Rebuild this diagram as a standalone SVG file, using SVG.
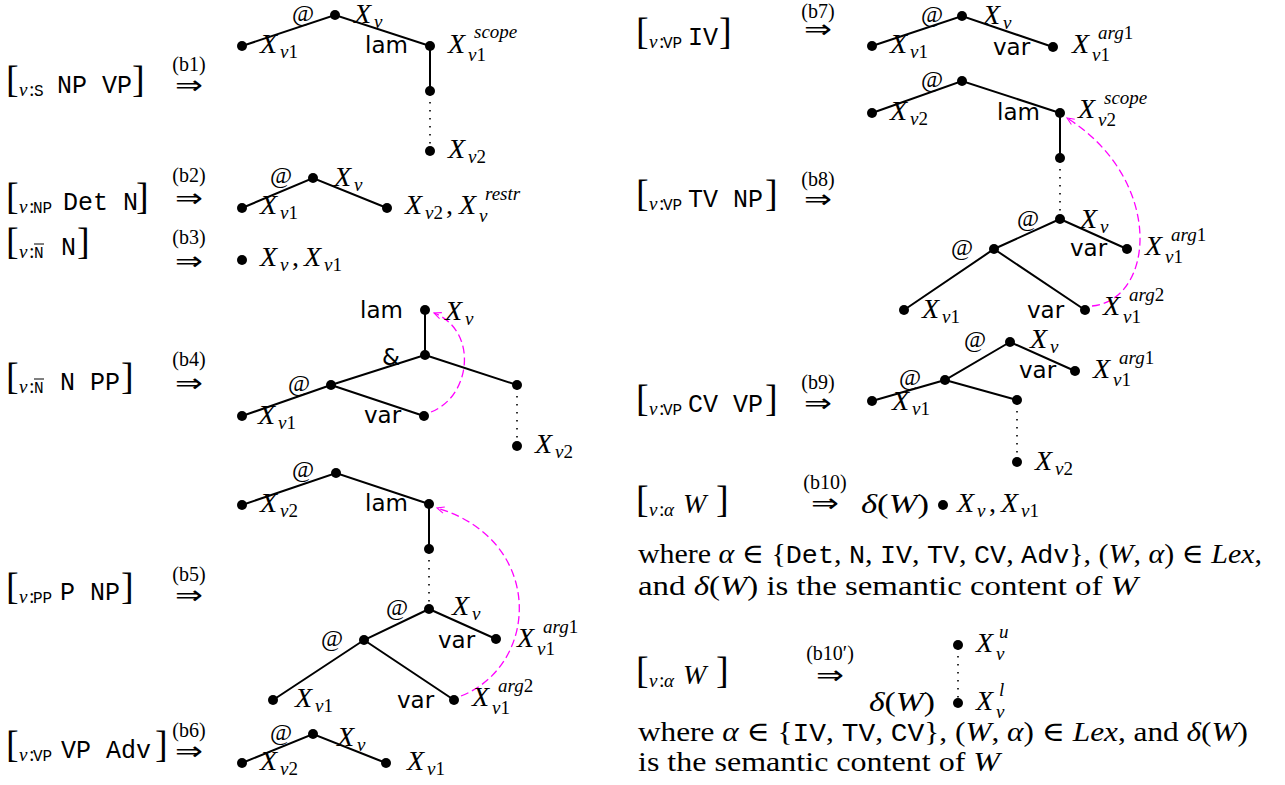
<svg xmlns="http://www.w3.org/2000/svg" width="1285" height="785" viewBox="0 0 1285 785">
<defs>
<style>
.m{font-family:"Liberation Serif","DejaVu Serif",serif;font-style:italic;font-size:28px}
.r{font-family:"Liberation Serif","DejaVu Serif",serif;font-size:28px;font-style:normal}
.s{font-size:19px}
.u{font-style:normal}
.i{font-style:italic}
.tt{font-family:"Liberation Mono",monospace;font-size:25px;font-style:normal}
.ts{font-family:"Liberation Mono",monospace;font-size:16px;font-style:normal}
.sf{font-family:"DejaVu Sans",sans-serif;font-size:23px}
.at{font-family:"Liberation Serif",serif;font-size:24px;text-anchor:middle}
.bl{font-family:"Liberation Serif",serif;font-size:20px;text-anchor:middle}
.ar{font-family:"DejaVu Sans",sans-serif;font-size:26px;text-anchor:middle}
.br{font-family:"Liberation Serif",serif;font-size:38px}
.col{font-family:"Liberation Serif",serif;font-size:20px}
.e{stroke:#000;stroke-width:2;fill:none}
.d{stroke:#000;stroke-width:1.6;stroke-dasharray:1.5 6.5;fill:none}
.c{stroke:#f0f;stroke-width:1.3;stroke-dasharray:8 4;fill:none;marker-end:url(#ah)}
circle{fill:#000}
</style>
<marker id="ah" viewBox="0 0 10 10" refX="9" refY="5" markerWidth="9" markerHeight="9" orient="auto" markerUnits="userSpaceOnUse"><path d="M1,1.5 L9,5 L1,8.5" fill="none" stroke="#f0f" stroke-width="1.2"/></marker>
</defs>
<rect width="1285" height="785" fill="#fff"/>

<g id="connectors">
<path class="e" d="M242,46 L335,15 L430,46 L430,91"/>
<path class="d" d="M430,94 L430,151"/>
<path class="e" d="M242,208 L313,178 L387,208"/>
<path class="e" d="M425,310 L425,355 L331,385 L242,416 M331,385 L424,416 M425,355 L517,385"/>
<path class="d" d="M517,388 L517,446"/>
<path class="c" d="M431,412 C472,396 478,330 434,313"/>
<path class="e" d="M242,505 L336,473 L429,504 L429,549 M429,609 L364,640 L273,700 M364,640 L454,700 M429,609 L496,639"/>
<path class="d" d="M429,552 L429,609"/>
<path class="c" d="M461,696 C540,665 545,540 437,508"/>
<path class="e" d="M242,763 L313,734 L386,763"/>
<path class="e" d="M872,46 L962,16 L1053,47"/>
<path class="e" d="M872,113 L962,81 L1060,113 L1060,158 M1060,219 L994,249 L904,310 M994,249 L1085,310 M1060,219 L1127,249"/>
<path class="d" d="M1060,161 L1060,219"/>
<path class="c" d="M1092,306 C1155,300 1165,180 1067,118"/>
<path class="e" d="M872,401 L945,380 L1010,342 L1075,371 M945,380 L1017,400"/>
<path class="d" d="M1017,403 L1017,462"/>
<path class="d" d="M958,648 L958,703"/>
</g>

<g id="b1-label">
<text class="br" x="6" y="92">[</text>
<text class="m s" x="19" y="96">ν</text><text class="col" x="29" y="96">:</text><text class="ts" x="34" y="96">S</text>
<text class="tt" x="57" y="93">NP VP</text>
<text class="br" x="132" y="92">]</text>
<text class="bl" x="189" y="71">(b1)</text>
<text class="ar" x="189" y="94" textLength="28" lengthAdjust="spacingAndGlyphs">⇒</text>
</g>
<g id="b1-n1"><circle cx="242" cy="46" r="5"/><text class="m" x="260" y="53">X<tspan class="s" x="280" y="58">ν<tspan class="u">1</tspan></tspan></text></g>
<g id="b1-n2"><circle cx="335" cy="15" r="5"/><text class="at" x="303" y="21">@</text><text class="m" x="354" y="23">X<tspan class="s" x="374" y="28">ν</tspan></text></g>
<g id="b1-n3"><circle cx="430" cy="46" r="5"/><text class="sf" x="365" y="53">lam</text><text class="m" x="448" y="53">X<tspan class="s" x="474" y="38">scope</tspan><tspan class="s" x="468" y="61">ν<tspan class="u">1</tspan></tspan></text></g>
<g id="b1-n4"><circle cx="430" cy="91" r="5"/></g>
<g id="b1-n5"><circle cx="430" cy="151" r="5"/><text class="m" x="448" y="158">X<tspan class="s" x="468" y="163">ν<tspan class="u">2</tspan></tspan></text></g>

<g id="b2-label">
<text class="br" x="6" y="209">[</text>
<text class="m s" x="19" y="213">ν</text><text class="col" x="29" y="213">:</text><text class="ts" x="33" y="213">NP</text>
<text class="tt" x="63" y="210">Det N</text>
<text class="br" x="136" y="209">]</text>
<text class="bl" x="189" y="182">(b2)</text>
<text class="ar" x="189" y="207" textLength="28" lengthAdjust="spacingAndGlyphs">⇒</text>
</g>
<g id="b2-n1"><circle cx="242" cy="208" r="5"/><text class="m" x="260" y="214">X<tspan class="s" x="280" y="219">ν<tspan class="u">1</tspan></tspan></text></g>
<g id="b2-n2"><circle cx="313" cy="178" r="5"/><text class="at" x="281" y="183">@</text><text class="m" x="334" y="186">X<tspan class="s" x="354" y="191">ν</tspan></text></g>
<g id="b2-n3"><circle cx="387" cy="208" r="5"/><text class="m" x="405" y="214">X<tspan class="s" x="425" y="219">ν<tspan class="u">2</tspan></tspan><tspan class="u" x="446" y="214">,</tspan><tspan x="459" y="214">X</tspan><tspan class="s" x="485" y="200">restr</tspan><tspan class="s" x="479" y="222">ν</tspan></text></g>

<g id="b3-label">
<text class="br" x="6" y="254">[</text>
<text class="m s" x="19" y="258">ν</text><text class="col" x="29" y="258">:</text><text class="ts" x="34" y="258">N</text>
<line x1="34" y1="244" x2="44" y2="244" stroke="#000" stroke-width="1"/>
<text class="tt" x="61" y="255">N</text>
<text class="br" x="77" y="254">]</text>
<text class="bl" x="189" y="244">(b3)</text>
<text class="ar" x="189" y="270" textLength="28" lengthAdjust="spacingAndGlyphs">⇒</text>
</g>
<g id="b3-n1"><circle cx="242" cy="260" r="5"/><text class="m" x="260" y="266">X<tspan class="s" x="280" y="271">ν</tspan><tspan class="u" x="292" y="266">,</tspan><tspan x="304" y="266">X</tspan><tspan class="s" x="324" y="271">ν<tspan class="u">1</tspan></tspan></text></g>

<g id="b4-label">
<text class="br" x="6" y="389">[</text>
<text class="m s" x="19" y="393">ν</text><text class="col" x="29" y="393">:</text><text class="ts" x="34" y="393">N</text>
<line x1="34" y1="379" x2="44" y2="379" stroke="#000" stroke-width="1"/>
<text class="tt" x="60" y="390">N PP</text>
<text class="br" x="121" y="389">]</text>
<text class="bl" x="189" y="366">(b4)</text>
<text class="ar" x="189" y="392" textLength="28" lengthAdjust="spacingAndGlyphs">⇒</text>
</g>
<g id="b4-n1"><circle cx="425" cy="310" r="5"/><text class="sf" x="360" y="318">lam</text><text class="m" x="445" y="320">X<tspan class="s" x="465" y="325">ν</tspan></text></g>
<g id="b4-n2"><circle cx="425" cy="355" r="5"/><text class="sf" x="382" y="365">&amp;</text></g>
<g id="b4-n3"><circle cx="331" cy="385" r="5"/><text class="at" x="299" y="391">@</text></g>
<g id="b4-n4"><circle cx="242" cy="416" r="5"/><text class="m" x="258" y="424">X<tspan class="s" x="278" y="429">ν<tspan class="u">1</tspan></tspan></text></g>
<g id="b4-n5"><circle cx="424" cy="416" r="5"/><text class="sf" x="364" y="423">var</text></g>
<g id="b4-n6"><circle cx="517" cy="385" r="5"/></g>
<g id="b4-n7"><circle cx="517" cy="446" r="5"/><text class="m" x="535" y="453">X<tspan class="s" x="555" y="458">ν<tspan class="u">2</tspan></tspan></text></g>

<g id="b5-label">
<text class="br" x="6" y="599">[</text>
<text class="m s" x="19" y="603">ν</text><text class="col" x="29" y="603">:</text><text class="ts" x="33" y="603">PP</text>
<text class="tt" x="60" y="600">P NP</text>
<text class="br" x="121" y="599">]</text>
<text class="bl" x="189" y="581">(b5)</text>
<text class="ar" x="189" y="604" textLength="28" lengthAdjust="spacingAndGlyphs">⇒</text>
</g>
<g id="b5-n1"><circle cx="242" cy="505" r="5"/><text class="m" x="260" y="512">X<tspan class="s" x="280" y="517">ν<tspan class="u">2</tspan></tspan></text></g>
<g id="b5-n2"><circle cx="336" cy="473" r="5"/><text class="at" x="303" y="477">@</text></g>
<g id="b5-n3"><circle cx="429" cy="504" r="5"/><text class="sf" x="365" y="511">lam</text></g>
<g id="b5-n4"><circle cx="429" cy="549" r="5"/></g>
<g id="b5-n5"><circle cx="429" cy="609" r="5"/><text class="at" x="397" y="615">@</text><text class="m" x="452" y="615">X<tspan class="s" x="472" y="620">ν</tspan></text></g>
<g id="b5-n6"><circle cx="496" cy="639" r="5"/><text class="sf" x="438" y="648">var</text><text class="m" x="517" y="647">X<tspan class="s" x="543" y="633">arg<tspan class="u">1</tspan></tspan><tspan class="s" x="537" y="655">ν<tspan class="u">1</tspan></tspan></text></g>
<g id="b5-n7"><circle cx="364" cy="640" r="5"/><text class="at" x="332" y="646">@</text></g>
<g id="b5-n8"><circle cx="273" cy="700" r="5"/><text class="m" x="295" y="707">X<tspan class="s" x="315" y="712">ν<tspan class="u">1</tspan></tspan></text></g>
<g id="b5-n9"><circle cx="454" cy="700" r="5"/><text class="sf" x="397" y="708">var</text><text class="m" x="472" y="706">X<tspan class="s" x="498" y="692">arg<tspan class="u">2</tspan></tspan><tspan class="s" x="492" y="714">ν<tspan class="u">1</tspan></tspan></text></g>

<g id="b6-label">
<text class="br" x="6" y="757">[</text>
<text class="m s" x="19" y="761">ν</text><text class="col" x="29" y="761">:</text><text class="ts" x="33" y="761">VP</text>
<text class="tt" x="61" y="758">VP Adv</text>
<text class="br" x="155" y="757">]</text>
<text class="bl" x="189" y="737">(b6)</text>
<text class="ar" x="189" y="760" textLength="28" lengthAdjust="spacingAndGlyphs">⇒</text>
</g>
<g id="b6-n1"><circle cx="242" cy="763" r="5"/><text class="m" x="260" y="770">X<tspan class="s" x="280" y="775">ν<tspan class="u">2</tspan></tspan></text></g>
<g id="b6-n2"><circle cx="313" cy="734" r="5"/><text class="at" x="281" y="740">@</text><text class="m" x="337" y="746">X<tspan class="s" x="357" y="751">ν</tspan></text></g>
<g id="b6-n3"><circle cx="386" cy="763" r="5"/><text class="m" x="407" y="770">X<tspan class="s" x="427" y="775">ν<tspan class="u">1</tspan></tspan></text></g>

<g id="b7-label">
<text class="br" x="636" y="44">[</text>
<text class="m s" x="649" y="48">ν</text><text class="col" x="659" y="48">:</text><text class="ts" x="663" y="48">VP</text>
<text class="tt" x="688" y="45">IV</text>
<text class="br" x="719" y="44">]</text>
<text class="bl" x="818" y="18">(b7)</text>
<text class="ar" x="818" y="38" textLength="28" lengthAdjust="spacingAndGlyphs">⇒</text>
</g>
<g id="b7-n1"><circle cx="872" cy="46" r="5"/><text class="m" x="890" y="53">X<tspan class="s" x="910" y="58">ν<tspan class="u">1</tspan></tspan></text></g>
<g id="b7-n2"><circle cx="962" cy="16" r="5"/><text class="at" x="932" y="22">@</text><text class="m" x="983" y="24">X<tspan class="s" x="1003" y="29">ν</tspan></text></g>
<g id="b7-n3"><circle cx="1053" cy="47" r="5"/><text class="sf" x="993" y="55">var</text><text class="m" x="1072" y="53">X<tspan class="s" x="1098" y="39">arg<tspan class="u">1</tspan></tspan><tspan class="s" x="1092" y="61">ν<tspan class="u">1</tspan></tspan></text></g>

<g id="b8-label">
<text class="br" x="636" y="206">[</text>
<text class="m s" x="649" y="210">ν</text><text class="col" x="659" y="210">:</text><text class="ts" x="663" y="210">VP</text>
<text class="tt" x="688" y="207">TV NP</text>
<text class="br" x="765" y="206">]</text>
<text class="bl" x="818" y="186">(b8)</text>
<text class="ar" x="818" y="208" textLength="28" lengthAdjust="spacingAndGlyphs">⇒</text>
</g>
<g id="b8-n1"><circle cx="872" cy="113" r="5"/><text class="m" x="890" y="120">X<tspan class="s" x="910" y="125">ν<tspan class="u">2</tspan></tspan></text></g>
<g id="b8-n2"><circle cx="962" cy="81" r="5"/><text class="at" x="932" y="87">@</text></g>
<g id="b8-n3"><circle cx="1060" cy="113" r="5"/><text class="sf" x="997" y="120">lam</text><text class="m" x="1078" y="118">X<tspan class="s" x="1104" y="104">scope</tspan><tspan class="s" x="1098" y="126">ν<tspan class="u">2</tspan></tspan></text></g>
<g id="b8-n4"><circle cx="1060" cy="158" r="5"/></g>
<g id="b8-n5"><circle cx="1060" cy="219" r="5"/><text class="at" x="1028" y="226">@</text><text class="m" x="1080" y="228">X<tspan class="s" x="1100" y="233">ν</tspan></text></g>
<g id="b8-n6"><circle cx="1127" cy="249" r="5"/><text class="sf" x="1070" y="256">var</text><text class="m" x="1145" y="255">X<tspan class="s" x="1171" y="241">arg<tspan class="u">1</tspan></tspan><tspan class="s" x="1165" y="263">ν<tspan class="u">1</tspan></tspan></text></g>
<g id="b8-n7"><circle cx="994" cy="249" r="5"/><text class="at" x="962" y="255">@</text></g>
<g id="b8-n8"><circle cx="904" cy="310" r="5"/><text class="m" x="922" y="318">X<tspan class="s" x="942" y="323">ν<tspan class="u">1</tspan></tspan></text></g>
<g id="b8-n9"><circle cx="1085" cy="310" r="5"/><text class="sf" x="1027" y="318">var</text><text class="m" x="1103" y="315">X<tspan class="s" x="1129" y="301">arg<tspan class="u">2</tspan></tspan><tspan class="s" x="1123" y="323">ν<tspan class="u">1</tspan></tspan></text></g>

<g id="b9-label">
<text class="br" x="636" y="411">[</text>
<text class="m s" x="649" y="415">ν</text><text class="col" x="659" y="415">:</text><text class="ts" x="663" y="415">VP</text>
<text class="tt" x="688" y="412">CV VP</text>
<text class="br" x="765" y="411">]</text>
<text class="bl" x="818" y="389">(b9)</text>
<text class="ar" x="818" y="412" textLength="28" lengthAdjust="spacingAndGlyphs">⇒</text>
</g>
<g id="b9-n1"><circle cx="872" cy="401" r="5"/><text class="m" x="892" y="410">X<tspan class="s" x="912" y="415">ν<tspan class="u">1</tspan></tspan></text></g>
<g id="b9-n2"><circle cx="945" cy="380" r="5"/><text class="at" x="910" y="385">@</text></g>
<g id="b9-n3"><circle cx="1010" cy="342" r="5"/><text class="at" x="975" y="347">@</text><text class="m" x="1030" y="348">X<tspan class="s" x="1050" y="353">ν</tspan></text></g>
<g id="b9-n4"><circle cx="1075" cy="371" r="5"/><text class="sf" x="1019" y="378">var</text><text class="m" x="1093" y="378">X<tspan class="s" x="1119" y="364">arg<tspan class="u">1</tspan></tspan><tspan class="s" x="1113" y="386">ν<tspan class="u">1</tspan></tspan></text></g>
<g id="b9-n5"><circle cx="1017" cy="400" r="5"/></g>
<g id="b9-n6"><circle cx="1017" cy="462" r="5"/><text class="m" x="1035" y="470">X<tspan class="s" x="1055" y="475">ν<tspan class="u">2</tspan></tspan></text></g>

<g id="b10-label">
<text class="br" x="636" y="512">[</text>
<text class="m s" x="649" y="516">ν</text><text class="col" x="659" y="516">:</text><text class="m s" x="664" y="516">α</text>
<text class="m" x="683" y="513">W</text>
<text class="br" x="716" y="512">]</text>
<text class="bl" x="825" y="489">(b10)</text>
<text class="ar" x="825" y="512" textLength="28" lengthAdjust="spacingAndGlyphs">⇒</text>
</g>
<g id="b10-n1"><text class="m" x="861" y="513" textLength="68" lengthAdjust="spacingAndGlyphs"><tspan>δ</tspan><tspan class="u">(</tspan>W<tspan class="u">)</tspan></text><circle cx="943" cy="505" r="5"/><text class="m" x="957" y="512">X<tspan class="s" x="977" y="517">ν</tspan><tspan class="u" x="989" y="512">,</tspan><tspan x="1001" y="512">X</tspan><tspan class="s" x="1021" y="517">ν<tspan class="u">1</tspan></tspan></text></g>
<g id="b10-text">
<text class="r" x="638" y="563" textLength="624" lengthAdjust="spacingAndGlyphs">where <tspan class="i">α</tspan> ∈ {<tspan class="tt">Det</tspan>, <tspan class="tt">N</tspan>, <tspan class="tt">IV</tspan>, <tspan class="tt">TV</tspan>, <tspan class="tt">CV</tspan>, <tspan class="tt">Adv</tspan>}, (<tspan class="i">W</tspan>, <tspan class="i">α</tspan>) ∈ <tspan class="i">Lex</tspan>,</text>
<text class="r" x="638" y="595" textLength="500" lengthAdjust="spacingAndGlyphs">and <tspan class="i">δ</tspan>(<tspan class="i">W</tspan>) is the semantic content of <tspan class="i">W</tspan></text>
</g>

<g id="b10p-label">
<text class="br" x="636" y="683">[</text>
<text class="m s" x="649" y="687">ν</text><text class="col" x="659" y="687">:</text><text class="m s" x="664" y="687">α</text>
<text class="m" x="683" y="684">W</text>
<text class="br" x="716" y="683">]</text>
<text class="bl" x="830" y="660">(b10′)</text>
<text class="ar" x="830" y="684" textLength="28" lengthAdjust="spacingAndGlyphs">⇒</text>
</g>
<g id="b10p-n1"><circle cx="958" cy="645" r="5"/><text class="m" x="976" y="652">X<tspan class="s" x="999" y="638">u</tspan><tspan class="s" x="996" y="660">ν</tspan></text></g>
<g id="b10p-n2"><text class="m" x="869" y="711" textLength="66" lengthAdjust="spacingAndGlyphs"><tspan>δ</tspan><tspan class="u">(</tspan>W<tspan class="u">)</tspan></text><circle cx="958" cy="703" r="5"/><text class="m" x="976" y="710">X<tspan class="s" x="999" y="696">l</tspan><tspan class="s" x="996" y="718">ν</tspan></text></g>
<g id="b10p-text">
<text class="r" x="638" y="741" textLength="610" lengthAdjust="spacingAndGlyphs">where <tspan class="i">α</tspan> ∈ {<tspan class="tt">IV</tspan>, <tspan class="tt">TV</tspan>, <tspan class="tt">CV</tspan>}, (<tspan class="i">W</tspan>, <tspan class="i">α</tspan>) ∈ <tspan class="i">Lex</tspan>, and <tspan class="i">δ</tspan>(<tspan class="i">W</tspan>)</text>
<text class="r" x="638" y="771" textLength="362" lengthAdjust="spacingAndGlyphs">is the semantic content of <tspan class="i">W</tspan></text>
</g>
</svg>
